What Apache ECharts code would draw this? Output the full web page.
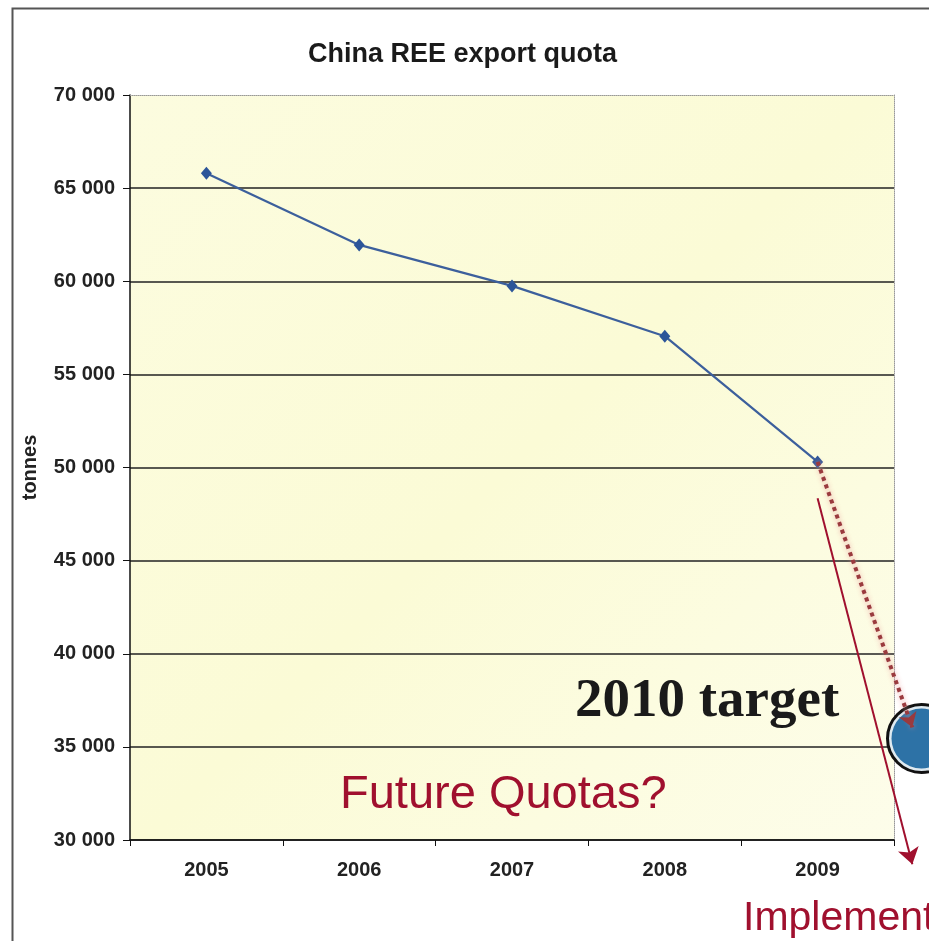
<!DOCTYPE html>
<html>
<head>
<meta charset="utf-8">
<title>China REE export quota</title>
<script src="https://cdn.jsdelivr.net/npm/echarts@6/dist/echarts.min.js"></script>
<style>
  html, body { margin: 0; padding: 0; background: #fff; }
  #chart { width: 929px; height: 941px; }
</style>
</head>
<body>
<div id="chart"></div>
<script>
const years = ['2005', '2006', '2007', '2008', '2009']
const quota = [65800, 61950, 59750, 57050, 50300]
// hand-drawn notes, placed on a year scale that runs on past 2009
const projection = [[2009, 50300], [2009.62, 36050]]
const target = [2009.68, 35450]
const trendArrow = [[2009, 48350], [2009.62, 28700]]
const yMin = 30000
const yMax = 70000
const yStep = 5000

const red = '#a0102e'
const labelFont = { color: '#222', fontSize: 20, fontWeight: 'bold', fontFamily: 'Liberation Sans, Arial' }

function spaced(v) {
  return String(v).replace(/\B(?=(\d{3})+(?!\d))/g, ' ')
}

const chart = echarts.init(document.getElementById('chart'))

const option = {
  backgroundColor: '#fff',
  animation: false,
  title: {
    text: 'China REE export quota',
    left: 303,
    top: 36,
    textStyle: { color: '#1a1a1a', fontSize: 27, fontWeight: 'bold', fontFamily: 'Liberation Sans, Arial' }
  },
  grid: {
    left: 130,
    right: 35,
    top: 95,
    bottom: 101,
    show: true,
    borderWidth: 0,
    backgroundColor: {
      type: 'linear', x: 0, y: 0, x2: 1, y2: 1,
      colorStops: [
        { offset: 0, color: '#fcfcdf' },
        { offset: 0.5, color: '#fbfbd6' },
        { offset: 1, color: '#fdfdea' }
      ]
    }
  },
  xAxis: [
    {
      type: 'category',
      data: years,
      boundaryGap: true,
      axisLine: { lineStyle: { color: '#111', width: 1.5 } },
      axisTick: { show: true, length: 6, lineStyle: { color: '#111' } },
      axisLabel: Object.assign({ margin: 20 }, labelFont),
      splitLine: { show: false }
    },
    {
      type: 'value',
      min: 2004.5,
      max: 2009.5,
      position: 'top',
      axisLine: { show: true, lineStyle: { color: '#999', type: 'dotted', width: 1 } },
      axisTick: { show: false },
      axisLabel: { show: false },
      splitLine: { show: false }
    }
  ],
  yAxis: [
    {
      type: 'value',
      min: yMin,
      max: yMax,
      interval: yStep,
      name: 'tonnes',
      nameLocation: 'middle',
      nameRotate: 90,
      nameGap: 90,
      nameTextStyle: labelFont,
      axisLine: { show: true, lineStyle: { color: '#111', width: 1.5 } },
      axisTick: { show: true, length: 7, lineStyle: { color: '#111' } },
      axisLabel: Object.assign({ margin: 15, formatter: spaced }, labelFont),
      splitLine: { show: true, showMaxLine: false, lineStyle: { color: '#222', width: 1.6 } }
    },
    {
      type: 'value',
      min: yMin,
      max: yMax,
      position: 'right',
      axisLine: { show: true, lineStyle: { color: '#999', type: 'dotted', width: 1 } },
      axisTick: { show: false },
      axisLabel: { show: false },
      splitLine: { show: false }
    }
  ],
  series: [
    {
      name: 'quota',
      type: 'line',
      data: quota,
      symbol: 'diamond',
      symbolSize: [11, 13],
      itemStyle: { color: '#2c5599' },
      lineStyle: { color: '#3c5f9c', width: 2.2 },
      z: 5
    },
    {
      name: 'target ring',
      type: 'scatter',
      xAxisIndex: 1,
      data: [target],
      clip: false,
      symbolSize: 68,
      itemStyle: { color: '#dfeaf0', borderColor: '#111', borderWidth: 3, opacity: 1 },
      z: 6
    },
    {
      name: 'target',
      type: 'scatter',
      xAxisIndex: 1,
      data: [target],
      clip: false,
      symbolSize: 60,
      itemStyle: { color: '#2d72a6', opacity: 1 },
      z: 7
    },
    {
      name: 'projection',
      type: 'lines',
      coordinateSystem: 'cartesian2d',
      xAxisIndex: 1,
      clip: false,
      symbol: ['none', 'arrow'],
      symbolSize: 14,
      data: [{ coords: projection }],
      lineStyle: {
        color: '#9a3a3e',
        width: 4,
        type: [4, 4],
        opacity: 1,
        shadowColor: 'rgba(235, 150, 150, 0.9)',
        shadowBlur: 5
      },
      z: 8
    },
    {
      name: 'trend',
      type: 'lines',
      coordinateSystem: 'cartesian2d',
      xAxisIndex: 1,
      clip: false,
      symbol: ['none', 'arrow'],
      symbolSize: 16,
      data: [{ coords: trendArrow }],
      lineStyle: { color: red, width: 2, opacity: 1 },
      z: 9
    }
  ],
  graphic: [
    {
      type: 'rect',
      left: 10,
      top: 6,
      shape: { width: 1000, height: 1000 },
      style: { fill: 'none', stroke: '#555', lineWidth: 2 },
      silent: true
    },
    {
      type: 'text',
      left: 575,
      top: 674,
      z: 20,
      style: { text: '2010 target', font: 'bold 55px "Liberation Serif", "Times New Roman", serif', fill: '#1a1a1a' }
    },
    {
      type: 'text',
      left: 340,
      top: 772,
      z: 20,
      style: { text: 'Future Quotas?', font: '47px "Liberation Sans", Arial, sans-serif', fill: red }
    },
    {
      type: 'text',
      left: 743,
      top: 898,
      z: 20,
      style: { text: 'Implement', font: '41px "Liberation Sans", Arial, sans-serif', fill: red }
    }
  ]
}

chart.setOption(option)
</script>
</body>
</html>
